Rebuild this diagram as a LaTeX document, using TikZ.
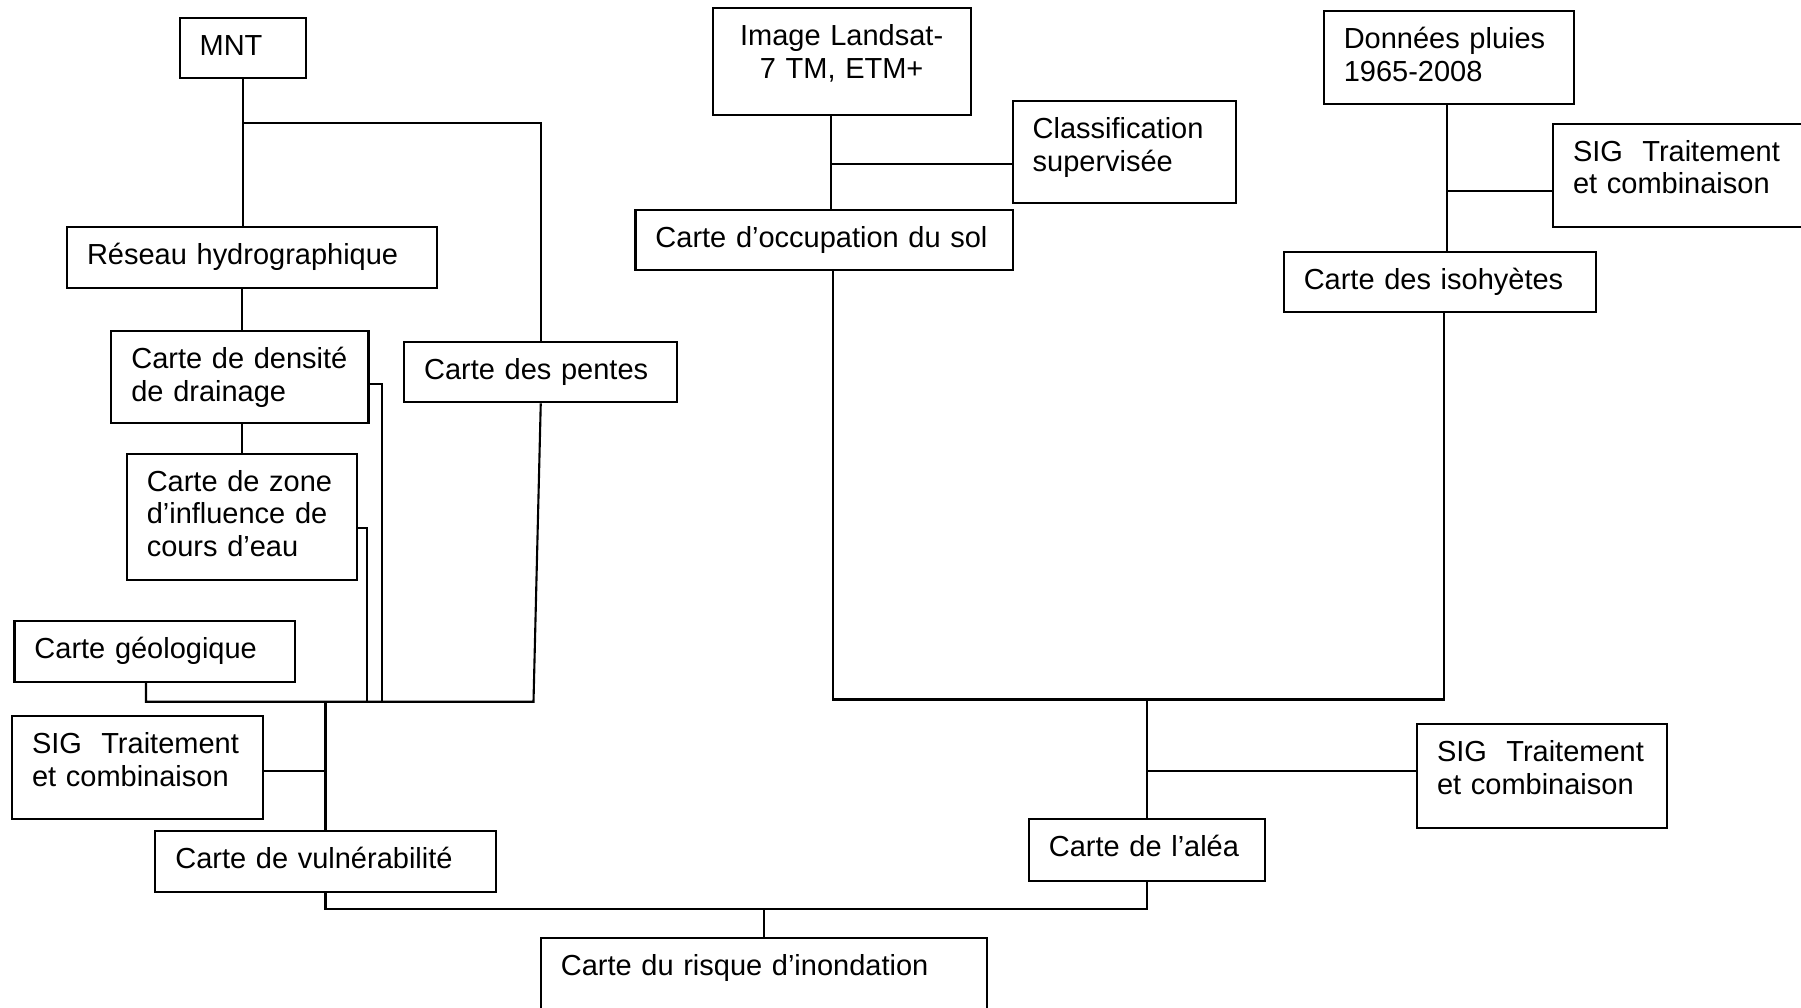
\documentclass[tikz,border=0pt]{standalone}
\usepackage{fontspec}
\setmainfont{Liberation Sans}
\usepackage{tikz}
\usetikzlibrary{positioning}

\tikzset{
    box/.style={rectangle,draw,anchor=north west,align=left,inner xsep=0.2cm,inner ysep=0pt,
        text height=0.375cm,font=\fontsize{8.25pt}{9.3pt}\selectfont},
    link/.style={line width=0.6pt}
}

\begin{document}
\begin{tikzpicture}[line width=0.6pt]
    \useasboundingbox (0,0) rectangle (18.01,-10.08);
    \clip (0,0) rectangle (18.01,-10.08);
    % left branch
    \node[box,text width=0.859cm,text depth=0.231cm] (mnt) at (1.786,-0.167) {MNT};
    \node[box,text width=3.297cm,text depth=0.235cm] (reseau) at (0.66,-2.257) {Réseau hydrographique};
    \node[box,text width=2.171cm,text depth=0.545cm] (densite) at (1.103,-3.30) {Carte de densité\\de drainage};
    \node[box,text width=2.332cm,text depth=0.231cm] (pentes) at (4.031,-3.407) {Carte des pentes};
    \node[box,text width=1.903cm,text depth=0.885cm] (zone) at (1.257,-4.527) {Carte de zone\\d’influence de\\cours d’eau};
    \node[box,text width=2.408cm,text depth=0.232cm] (geol) at (0.134,-6.203) {Carte géologique};
    \node[box,text width=2.107cm,text depth=0.658cm] (sigL) at (0.11,-7.15) {SIG~~Traitement\\et combinaison};
    \node[box,text width=3.003cm,text depth=0.232cm] (vuln) at (1.543,-8.30) {Carte de vulnérabilité};
    % middle branch
    \node[box,align=center,text width=2.18cm,text depth=0.692cm] (landsat) at (7.116,-0.073) {Image Landsat-\\7 TM, ETM+};
    \node[box,text width=1.837cm,text depth=0.645cm] (classif) at (10.116,-1.0) {Classification\\supervisée};
    \node[box,text width=3.372cm,text depth=0.231cm] (occup) at (6.344,-2.087) {Carte d’occupation du sol};
    % right branch
    \node[box,text width=2.106cm,text depth=0.549cm] (donnees) at (13.227,-0.103) {Données pluies\\1965-2008};
    \node[box,text width=2.25cm,text depth=0.658cm] (sigR1) at (15.52,-1.227) {SIG~~Traitement\\et combinaison};
    \node[box,text width=2.723cm,text depth=0.228cm] (iso) at (12.827,-2.507) {Carte des isohyètes};
    \node[box,text width=2.10cm,text depth=0.665cm] (sigR2) at (14.16,-7.233) {SIG~~Traitement\\et combinaison};
    \node[box,text width=1.965cm,text depth=0.239cm] (alea) at (10.278,-8.183) {Carte de l’aléa};
    \node[box,text width=4.057cm,text depth=0.625cm] (risque) at (5.398,-9.373) {Carte du risque d’inondation};

    %Junction points
    \coordinate (mntfork) at (2.43,-1.227);
    \coordinate (lsfork) at (8.31,-1.643);
    \coordinate (pfork) at (14.467,-1.907);
    \coordinate (bar1) at (1.46,-7.017);
    \coordinate (bar2) at (5.335,-7.017);
    \coordinate (dd) at (3.817,-7.017);
    \coordinate (zz) at (3.667,-7.017);
    \coordinate (bar3) at (8.33,-6.995);
    \coordinate (bar4) at (14.44,-6.995);
    \coordinate (bar5) at (3.24,-9.087);

    %Left links
    \draw (mnt.south -| mntfork) -- (reseau.north -| mntfork);
    \draw (mntfork) -- (pentes.north |- mntfork) -- (pentes.north);
    \draw (reseau.south -| zone.north) -- (densite.north -| zone.north);
    \draw (densite.south -| zone.north) -- (zone.north);
    \draw (geol.south -| bar1) -- (bar1) -- (bar2) -- (pentes.south);
    \draw ([yshift=-0.067cm]densite.east) -| (dd);
    \draw ([yshift=-0.11cm]zone.east) -| (zz);
    \draw (vuln.north |- bar1) -- (vuln.north);
    \draw ([yshift=-0.03cm]sigL.east) -- ([yshift=-0.03cm]sigL.east -| vuln.north);
    %Middle and right links
    \draw (landsat.south -| lsfork) -- (occup.north -| lsfork);
    \draw (lsfork) -- (classif.west |- lsfork);
    \draw (donnees.south -| pfork) -- (iso.north -| pfork);
    \draw (pfork) -- (sigR1.west |- pfork);
    \draw (occup.south -| bar3) -- (bar3) -- (bar4) -- (iso.south -| bar4);
    \draw (alea.north |- bar3) -- (alea.north);
    \draw ([yshift=0.05cm]sigR2.west) -- ([yshift=0.05cm]sigR2.west -| alea.north);
    %Final links
    \draw (vuln.south) -- (vuln.south |- bar5) -- (alea.south |- bar5) -- (alea.south);
    \draw (risque.north |- bar5) -- (risque.north);
\end{tikzpicture}
\end{document}
